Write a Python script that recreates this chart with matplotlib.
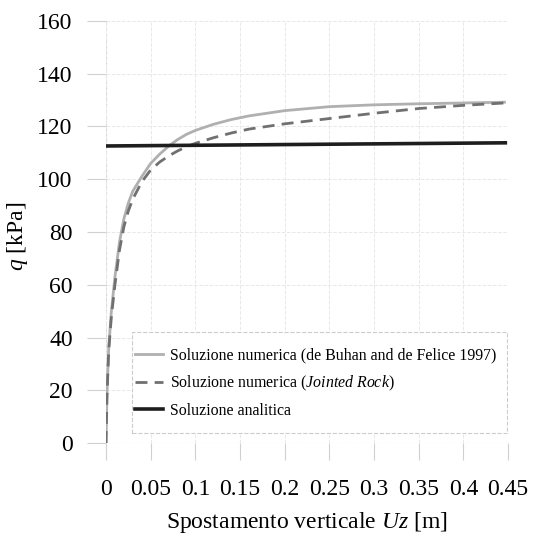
import numpy as np
import matplotlib
matplotlib.use('Agg')
import matplotlib.pyplot as plt
from matplotlib.patches import Rectangle

plt.rcParams['font.family'] = ['Liberation Serif', 'DejaVu Serif']
plt.rcParams['mathtext.fontset'] = 'custom'
plt.rcParams['mathtext.rm'] = 'Liberation Serif'
plt.rcParams['mathtext.it'] = 'Liberation Serif:italic'

# numerical solution (de Buhan and de Felice 1997)
x_buhan = [0, 0.001, 0.003, 0.006, 0.01, 0.015, 0.02, 0.025, 0.03, 0.04, 0.05, 0.06,
           0.07, 0.08, 0.09, 0.1, 0.12, 0.14, 0.16, 0.2, 0.25, 0.3, 0.35, 0.4, 0.446]
q_buhan = [0, 18, 36, 50, 63, 76, 85, 91, 95.5, 101, 106, 109.5,
           112.5, 115, 117, 118.5, 120.8, 122.6, 124, 126, 127.5, 128.2, 128.6, 128.9, 129.2]

# numerical solution (Jointed Rock)
x_joint = [0, 0.001, 0.003, 0.006, 0.01, 0.015, 0.02, 0.025, 0.03, 0.04, 0.05, 0.06,
           0.07, 0.08, 0.09, 0.1, 0.12, 0.14, 0.16, 0.2, 0.25, 0.3, 0.35, 0.4, 0.446]
q_joint = [0, 17, 35, 48, 60, 73, 82, 88, 92.5, 99, 103.5, 106.5,
           108.8, 110.7, 112.3, 113.6, 115.7, 117.5, 119, 121, 123, 125, 126.8, 128, 128.9]

# analytical solution
x_anal = [0, 0.447]
q_anal = [112.6, 113.8]

labels = ['Soluzione numerica (de Buhan and de Felice 1997)',
          r'Soluzione numerica ($\mathit{Jointed\ Rock}$)',
          'Soluzione analitica']

fig = plt.figure(figsize=(5.39, 5.37), dpi=100)
ax = fig.add_axes([0.1967, 0.175, 0.7458, 0.786])

ax.plot(x_buhan, q_buhan, color='#b0b0b0', lw=2.0, label=labels[0])
ax.plot(x_joint, q_joint, color='#707070', lw=2.0, dashes=(4.3, 2.6), label=labels[1])
ax.plot(x_anal, q_anal, color='#1e1e1e', lw=2.6, label=labels[2])

ax.set_xlim(0, 0.45)
ax.set_ylim(0, 160)
ax.set_xticks(np.arange(0, 0.451, 0.05))
ax.set_xticklabels(['0', '0.05', '0.1', '0.15', '0.2', '0.25', '0.3', '0.35', '0.4', '0.45'])
ax.set_yticks(np.arange(0, 161, 20))

for s in ax.spines.values():
    s.set_visible(False)
ax.grid(True, color='#e8e8e8', ls='--', lw=0.7)
ax.axvline(0, color='#d4d4d4', ls='--', lw=0.8, zorder=0)
ax.axhline(0, color='#d4d4d4', ls='--', lw=0.8, zorder=0)
ax.tick_params(axis='both', labelsize=17, color='#d0d0d0', width=0.8)
ax.tick_params(axis='x', length=12, pad=14)
ax.tick_params(axis='y', length=14, pad=10)

ax.set_xlabel(r'Spostamento verticale $Uz$ [m]', fontsize=17, labelpad=7)
ax.set_ylabel(r'$q$ [kPa]', fontsize=17)
ax.yaxis.set_label_coords(-0.189, 0.49)

# legend box drawn as a dashed frame
ax.add_patch(Rectangle((0.065, 0.024), 0.933, 0.239, transform=ax.transAxes,
                       facecolor='white', edgecolor='#cccccc', ls='--', lw=0.8,
                       zorder=3))
leg = ax.legend(loc='center left', bbox_to_anchor=(0.072, 0.142), frameon=False,
                fontsize=11.4, handlelength=1.75, handletextpad=0.45,
                labelspacing=0.65, borderpad=0, borderaxespad=0)
leg.set_zorder(4)

plt.savefig('out.png', dpi=100)
